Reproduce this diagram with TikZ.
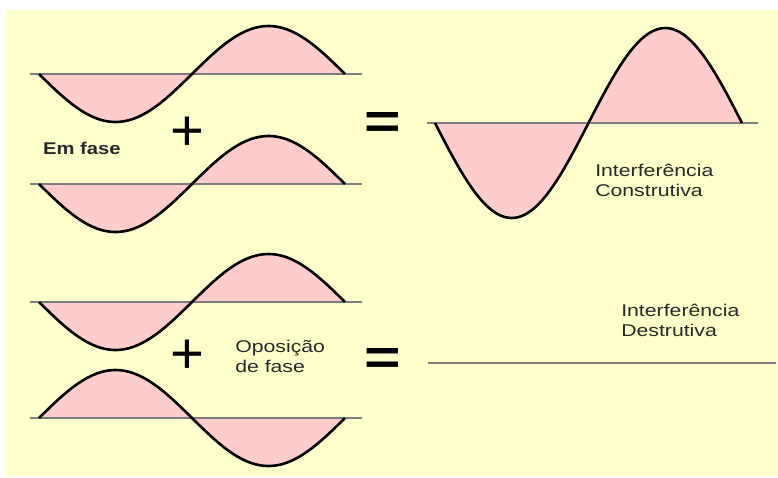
\documentclass[tikz,border=0pt]{standalone}
\usepackage{fontspec}
\setmainfont{Liberation Sans}
\usetikzlibrary{positioning}

\definecolor{bgyellow}{RGB}{255,255,204}
\definecolor{wavepink}{RGB}{255,204,204}
\definecolor{axisgray}{RGB}{125,125,125}
\definecolor{textgray}{RGB}{40,40,40}

\tikzset{
  axisline/.style={draw=axisgray, line width=2.2pt},
  waveline/.style={draw=black, line width=2.6pt, line join=round},
  wavefill/.style={fill=wavepink},
  caption/.style={text=textgray, inner sep=0pt, anchor=west, align=left,
    font=\fontsize{17}{20}\selectfont, xscale=1.25},
  opsign/.style={text=black, inner sep=0pt, font=\fontsize{50}{50}\selectfont\bfseries}
}

\begin{document}
\begin{tikzpicture}[x=1pt, y=-1pt]

% page and background
\fill[white] (0,0) rectangle (778,477);
\fill[bgyellow] (6,10) rectangle (778,476);
\useasboundingbox (0,0) rectangle (778,477);

% === Left: the four small waves ===
% axis height / sign of the first half wave
\foreach \ay/\sg in {74/1, 184/1, 302/1, 418/-1} {
  \fill[wavefill] plot[domain=39:345, samples=90, smooth]
    (\x, {\ay + \sg*48*sin((\x-39)/153*180)}) -- cycle;
  \draw[axisline] (30,\ay) -- (362,\ay);
  \draw[waveline] plot[domain=39:345, samples=90, smooth]
    (\x, {\ay + \sg*48*sin((\x-39)/153*180)});
}

% === Right: sum of the waves ===
% constructive: amplitude doubled
\fill[wavefill] plot[domain=435:742, samples=90, smooth]
  (\x, {123 + 95*sin((\x-435)/153.5*180)}) -- cycle;
\draw[axisline] (427,123) -- (758,123);
\draw[waveline] plot[domain=435:742, samples=90, smooth]
  (\x, {123 + 95*sin((\x-435)/153.5*180)});

% destructive: flat line
\draw[axisline] (428,363) -- (776,363);

% --- signs ---
\node[opsign, font=\fontsize{58}{58}\selectfont] (plusA) at (187,134) {+};
\node[opsign, font=\fontsize{58}{58}\selectfont] (plusB) at (187,357) {+};
\node[opsign, xscale=1.25] (equalA) at (383,125) {=};
\node[opsign, xscale=1.25] (equalB) at (383,361) {=};

% --- labels ---
\node[caption, font=\fontsize{17}{20}\selectfont\bfseries, xscale=0.95] (emfase) at (43,148) {Em fase};
\node[caption] (oposicao) at (235,356) {Oposição\\de fase};
\node[caption] (construtiva) at (595,180) {Interferência\\Construtiva};
\node[caption] (destrutiva) at (621,320) {Interferência\\Destrutiva};

\end{tikzpicture}
\end{document}
